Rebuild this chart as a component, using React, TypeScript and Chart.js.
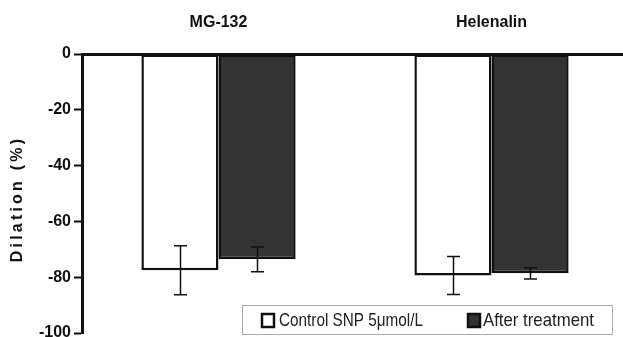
import React, { useEffect, useRef } from "react";
import { Chart, registerables } from "chart.js";

Chart.register(...registerables);

const categories = ["MG-132", "Helenalin"];
const seriesNames = ["Control SNP 5μmol/L", "After treatment"];
const controlValues = [-77.5, -79.4];
const controlErrors = [8.8, 6.8];
const afterValues = [-73.6, -78.6];
const afterErrors = [4.4, 2.0];
const yTitle = "Dilation (%)";

const errorData = [controlErrors, afterErrors];

const errorBarPlugin = {
  id: "errorBars",
  afterDatasetsDraw(chart: any) {
    const ctx = chart.ctx;
    const y = chart.scales.y;
    ctx.save();
    ctx.strokeStyle = "#111";
    ctx.lineWidth = 1.5;
    chart.data.datasets.forEach((ds: any, di: number) => {
      const meta = chart.getDatasetMeta(di);
      meta.data.forEach((bar: any, i: number) => {
        const v = ds.data[i];
        const e = errorData[di][i];
        const yt = y.getPixelForValue(v + e);
        const yb = y.getPixelForValue(v - e);
        const x = Math.round(bar.x) + 0.5;
        ctx.beginPath();
        ctx.moveTo(x, yt);
        ctx.lineTo(x, yb);
        ctx.moveTo(x - 6.5, yt);
        ctx.lineTo(x + 6.5, yt);
        ctx.moveTo(x - 6.5, yb);
        ctx.lineTo(x + 6.5, yb);
        ctx.stroke();
      });
    });
    ctx.restore();
  },
};

const extrasPlugin = {
  id: "extras",
  afterDraw(chart: any) {
    const ctx = chart.ctx;
    ctx.save();
    // y title
    ctx.translate(18, 199);
    ctx.rotate(-Math.PI / 2);
    ctx.font = "bold 16px 'Liberation Sans', Arial, sans-serif";
    (ctx as any).letterSpacing = "3.2px";
    ctx.fillStyle = "#111";
    ctx.textAlign = "center";
    ctx.textBaseline = "middle";
    ctx.fillText(yTitle, 0, 0);
    ctx.restore();

    // legend
    ctx.save();
    const lx = 242, ly = 305, lw = 370, lh = 29;
    ctx.fillStyle = "#fff";
    ctx.fillRect(lx, ly, lw, lh);
    ctx.strokeStyle = "#aaa";
    ctx.lineWidth = 1;
    ctx.strokeRect(lx + 0.5, ly + 0.5, lw, lh);
    const items = [
      { sx: 262, tx: 279, fill: "#fff", w: 144 },
      { sx: 468, tx: 483, fill: "#333", w: 111 },
    ];
    items.forEach((it, i) => {
      ctx.fillStyle = it.fill;
      ctx.fillRect(it.sx, 314, 12, 13);
      ctx.strokeStyle = "#111";
      ctx.lineWidth = 2.5;
      ctx.strokeRect(it.sx, 314, 12, 13);
      ctx.font = "19px 'Liberation Sans Narrow', 'Liberation Sans', Arial, sans-serif";
      ctx.fillStyle = "#222";
      ctx.textBaseline = "middle";
      ctx.textAlign = "left";
      const m = ctx.measureText(seriesNames[i]).width;
      ctx.save();
      ctx.translate(it.tx, 321);
      ctx.scale(it.w / m, 1);
      ctx.fillText(seriesNames[i], 0, 0);
      ctx.restore();
    });
    ctx.restore();
  },
};

export default function App() {
  const ref = useRef<HTMLCanvasElement>(null);
  useEffect(() => {
    const chart = new Chart(ref.current!, {
      type: "bar",
      data: {
        labels: categories,
        datasets: [
          {
            label: seriesNames[0],
            data: controlValues,
            backgroundColor: "#ffffff",
            borderColor: "#111",
            borderWidth: 2.5,
            borderSkipped: false,
          },
          {
            label: seriesNames[1],
            data: afterValues,
            backgroundColor: "#333333",
            borderColor: "#111",
            borderWidth: 2.5,
            borderSkipped: false,
          },
        ],
      },
      options: {
        animation: false,
        responsive: false,
        maintainAspectRatio: false,
        layout: { padding: { top: 0, bottom: 0, left: 0, right: 0 } },
        plugins: {
          legend: { display: false },
          tooltip: { enabled: false },
        },
        datasets: { bar: { barPercentage: 1, categoryPercentage: 0.565 } },
        scales: {
          x: {
            position: "top",
            grid: { display: false, drawTicks: false },
            border: { display: true, color: "#111", width: 3 },
            ticks: {
              padding: 22,
              color: "#111",
              font: { family: "'Liberation Sans', Arial, sans-serif", size: 16, weight: "bold" },
            },
            afterFit: (s: any) => {
              s.height = 54;
            },
          },
          y: {
            min: -100,
            max: 0,
            ticks: {
              stepSize: 20,
              padding: 3,
              color: "#111",
              font: { family: "'Liberation Sans', Arial, sans-serif", size: 16, weight: "bold", lineHeight: 0.12 },
            },
            grid: {
              display: true,
              drawOnChartArea: false,
              drawTicks: true,
              tickLength: 8,
              tickWidth: 2,
              tickColor: "#111",
            },
            border: { display: true, color: "#111", width: 3 },
            afterFit: (s: any) => {
              s.width = 82;
            },
          },
        },
      },
      plugins: [errorBarPlugin, extrasPlugin],
    } as any);
    return () => chart.destroy();
  }, []);
  return (
    <div style={{ position: "fixed", left: 0, top: 0, width: 623, height: 337, overflow: "hidden", background: "#fff" }}>
      <canvas ref={ref} width={628} height={337} style={{ display: "block", width: 628, height: 337 }} />
    </div>
  );
}
